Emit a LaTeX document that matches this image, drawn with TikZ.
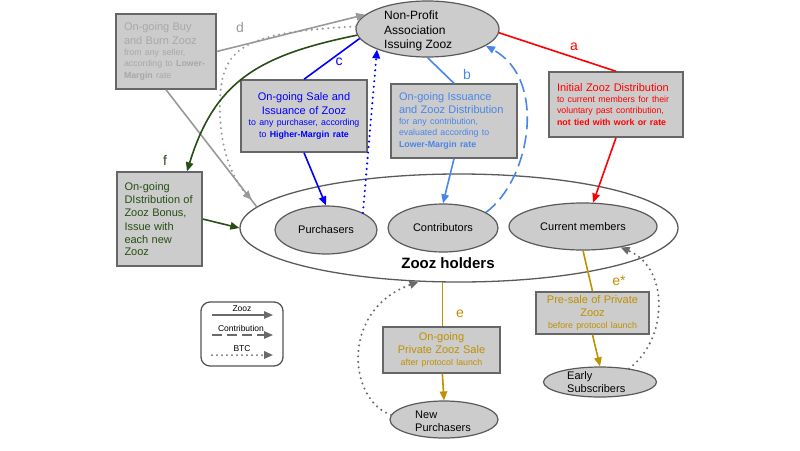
\documentclass[tikz,border=0pt]{standalone}
\usepackage{fontspec}
\setmainfont{Liberation Sans}
\usetikzlibrary{arrows.meta,shapes.geometric}
\setlength{\parindent}{0pt}
\definecolor{boxfill}{HTML}{CCCCCC}
\definecolor{boxdraw}{HTML}{666666}
\definecolor{ovaldraw}{HTML}{5A5A5A}
\definecolor{dtext}{HTML}{A8A8A8}
\definecolor{dline}{HTML}{999999}
\definecolor{ddark}{HTML}{6A6A6A}
\definecolor{cblue}{HTML}{0000FF}
\definecolor{bblue}{HTML}{4A86E8}
\definecolor{ared}{HTML}{FF0000}
\definecolor{fgreen}{HTML}{274E13}
\definecolor{egold}{HTML}{BF9000}
\definecolor{legdraw}{HTML}{555555}
\newcommand\zzLg{\fontsize{11}{13.5}\selectfont}
\newcommand\zzSm{\fontsize{8.8}{11}\selectfont}
\begin{document}
\begin{tikzpicture}[x=1pt,y=-1pt,
  box/.style={draw=boxdraw, fill=boxfill, line width=1.4pt, inner ysep=0pt, inner xsep=8pt},
  oval/.style={ellipse, draw=ovaldraw, fill=boxfill, line width=1.2pt, inner sep=0pt},
  tip/.style={-{Triangle[length=9pt,width=7.5pt]}},
  conn/.style={line width=1.6pt},
  dots/.style={line width=2.3pt, line cap=round, dash pattern=on 0pt off 5.5pt},
  lbl/.style={font=\fontsize{14}{16}\selectfont, inner sep=0pt},
  otext/.style={anchor=west, inner sep=0pt, align=left},
  legtxt/.style={font=\fontsize{8.5}{10}\selectfont, inner sep=0pt},
]
\useasboundingbox (0,0) rectangle (800,450);

% Zooz holders (big ellipse)
\node[ellipse, draw=ovaldraw, fill=white, line width=1.3pt, minimum width=438pt, minimum height=108pt, inner sep=0pt] (H) at (459,228) {};
\node[font=\bfseries\fontsize{15}{18}\selectfont, inner sep=0pt] (Ht) at (448,263) {Zooz holders};

% ovals
\node[oval, minimum width=143pt, minimum height=56pt] (npa) at (427.5,29) {};
\node[otext, font=\fontsize{12}{14.5}\selectfont] (npat) at (384,31) {Non-Profit\\Association\\Issuing Zooz};
\node[oval, minimum width=102pt, minimum height=48pt, font=\fontsize{11}{13}\selectfont] (pur) at (326,230) {Purchasers};
\node[oval, minimum width=110pt, minimum height=48pt, font=\fontsize{11}{13}\selectfont] (con) at (443,228) {Contributors};
\node[oval, minimum width=148pt, minimum height=47pt, font=\fontsize{11}{13}\selectfont] (cur) at (583,226.5) {Current members};
\node[oval, minimum width=113pt, minimum height=30pt] (es) at (600,382) {};
\node[otext, font=\fontsize{11}{13}\selectfont] (est) at (567,382) {Early\\Subscribers};
\node[oval, minimum width=108pt, minimum height=37pt] (np) at (444,419.5) {};
\node[otext, font=\fontsize{11}{13}\selectfont] (npt) at (415,421) {New\\Purchasers};

% boxes
\node[box, text=dtext, text width=84pt, minimum height=75pt, align=left] (dbox) at (166,51.5)
  {\zzLg On-going Buy\par and Burn Zooz\par\zzSm from any seller,\par according to \textbf{Lower-}\par\textbf{Margin} rate};
\node[box, text=cblue, text width=118pt, inner xsep=4pt, minimum height=72pt, align=center] (cbox) at (304,116)
  {\zzLg On-going Sale and\par Issuance of Zooz\par\zzSm to any purchaser, according\par to \textbf{Higher-Margin rate}};
\node[box, text=bblue, text width=110pt, minimum height=74pt, align=left] (bbox) at (454,121)
  {\zzLg On-going Issuance\par and Zooz Distribution\par\zzSm for any contribution,\par evaluated according to\par\textbf{Lower-Margin rate}};
\node[box, text=ared, text width=118pt, minimum height=65pt, align=left] (abox) at (616,104.5)
  {\zzLg Initial Zooz Distribution\par\zzSm to current members for their\par voluntary past contribution,\par\textbf{not tied with work or rate}};
\node[box, text=fgreen, text width=70pt, inner xsep=7.5pt, minimum height=94pt, align=left] (fbox) at (159.5,219)
  {\fontsize{11}{13.4}\selectfont On-going\par DIstribution of\par Zooz Bonus,\par Issue with\par each new\par Zooz};
\node[box, text=egold, text width=105pt, inner xsep=4pt, minimum height=42pt, align=center] (estar) at (592.5,313)
  {\zzLg Pre-sale of Private\par Zooz\par\zzSm before protocol launch};
\node[box, text=egold, text width=109pt, inner xsep=4pt, minimum height=46pt, align=center] (ebox) at (441.5,350)
  {\zzLg On-going\par Private Zooz Sale\par\zzSm after protocol launch};

% legend
\node[draw=legdraw, rounded corners=9pt, line width=1.3pt, minimum width=82pt, minimum height=64pt, inner sep=0pt] (leg) at (242,334) {};
\node[legtxt] (lz) at (242,309) {Zooz};
\node[legtxt] (lc) at (241,328) {Contribution};
\node[legtxt] (lb) at (242,349) {BTC};
\coordinate (lza) at (212,315); \coordinate (lzb) at (273,315);
\coordinate (lca) at (212,335); \coordinate (lcb) at (273,335);
\coordinate (lba) at (212,355); \coordinate (lbb) at (273,355);
\draw[line width=1.3pt, ddark, tip] (lza) -- (lzb);
\draw[line width=1.3pt, ddark, dash pattern=on 10pt off 5pt, tip] (lca) -- (lcb);
\draw[line width=2pt, ddark, line cap=round, dash pattern=on 0pt off 5pt, tip] (lba) -- (lbb);

% d
\draw[conn, dline, tip] (dbox.east) -- (npa.167);
\draw[conn, dline] (dbox.south) -- (H.174);
\draw[dots, dline, tip] (npa.178) .. controls (240,32) and (222,50) .. (220,100)
   .. controls (218,150) and (235,182) .. ([shift={(-5,-7)}]H.174);
% f
\draw[conn, fgreen, tip] (npa.185) .. controls (260,55) and (215,80) .. (fbox.60);
\draw[conn, fgreen, tip] (fbox.east) -- (H.west);
% c
\draw[conn, cblue] (npa.188) -- (cbox.north);
\draw[conn, cblue, tip] (cbox.south) -- (pur.north);
\draw[dots, cblue, tip] (pur.25) -- (npa.202);
% b
\draw[conn, bblue] (npa.270) -- (bbox.north);
\draw[conn, bblue, tip] (bbox.south) -- (con.north);
\draw[conn, bblue, dash pattern=on 13pt off 6pt, tip] (con.20) .. controls (530,180) and (548,80) .. (npa.344);
% a
\draw[conn, ared] (npa.357) -- (abox.north);
\draw[conn, ared, tip] (abox.south) -- (cur.67);
% e*
\draw[conn, egold] (cur.south) -- (estar.north);
\draw[conn, egold, tip] (estar.south) -- (es.north);
\draw[dots, ddark, tip] (es.25) .. controls (668,340) and (670,268) .. (cur.331);
% e
\draw[conn, egold] (H.253) -- (H.253 |- ebox.north);
\draw[conn, egold, tip] (ebox.south -| H.253) -- (np.north);
\draw[dots, ddark, tip] (np.175) .. controls (348,400) and (340,310) .. (H.233);

% labels
\node[lbl, text=dline] (ld) at (240,27) {d};
\node[lbl, text=cblue] (lcl) at (339,62) {c};
\node[lbl, text=bblue] (lbl) at (467,74) {b};
\node[lbl, text=ared] (lal) at (574,47) {a};
\node[lbl, text=fgreen] (lfl) at (165,160) {f};
\node[lbl, text=egold] (lesl) at (619,281) {e*};
\node[lbl, text=egold] (lel) at (460,314) {e};
\end{tikzpicture}
\end{document}
